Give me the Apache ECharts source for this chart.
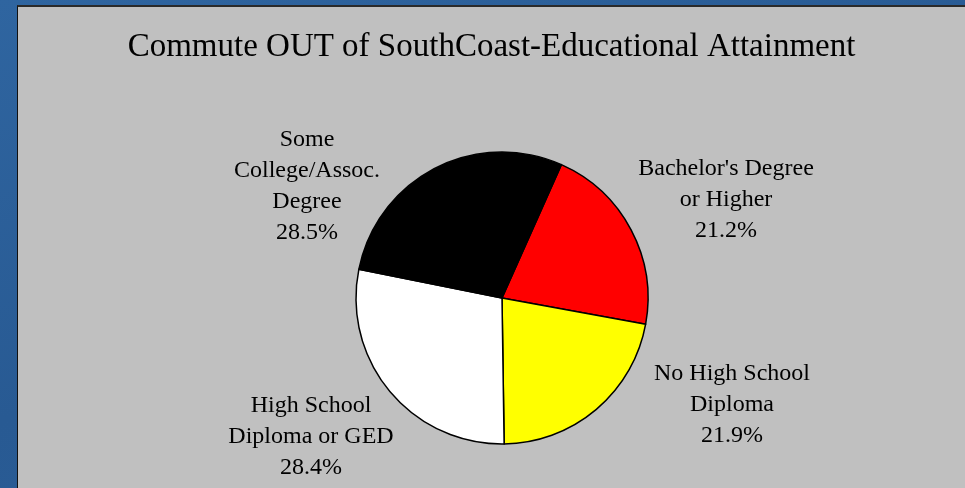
<!DOCTYPE html>
<html>
<head>
<meta charset="utf-8">
<title>Commute OUT of SouthCoast</title>
<script src="https://cdn.jsdelivr.net/npm/echarts@6/dist/echarts.min.js"></script>
<style>
	html, body {
		margin: 0;
		padding: 0;
		width: 965px;
		height: 488px;
		overflow: hidden;
		background: linear-gradient(160deg, #2f65a0 0%, #285a93 50%, #2c5f99 100%);
	}
	#main {
		position: absolute;
		left: 17px;
		top: 5px;
		width: 948px;
		height: 483px;
		border-top: 2px solid #2a2a2a;
		border-left: 1px solid #111;
		box-sizing: border-box;
	}
</style>
</head>
<body>
<div id="main"></div>
<script>
	// 数据
	var categories = [
		"Bachelor's Degree\nor Higher",
		'No High School\nDiploma',
		'High School\nDiploma or GED',
		'Some\nCollege/Assoc.\nDegree'
	];
	var shares = [21.2, 21.9, 28.4, 28.5];
	var sliceColors = ['#ff0000', '#ffff00', '#ffffff', '#000000'];

	// label centres, relative to the pie centre (px)
	var labelOffsets = [[224, -98], [230, 107], [-191, 139], [-195, -112]];
	var pieCenter = [484, 291];

	var myChart = echarts.init(document.getElementById('main'));
	myChart.setOption({
		backgroundColor: '#c0c0c0',
		animation: false,
		title: {
			text: 'Commute OUT of SouthCoast-Educational Attainment',
			left: 'center',
			top: 19,
			textStyle: {
				fontFamily: 'Liberation Serif',
				fontWeight: 'normal',
				fontSize: 33,
				color: '#000'
			}
		},
		series: [{
			type: 'pie',
			center: pieCenter,
			radius: 146,
			startAngle: 66,
			clockwise: true,
			avoidLabelOverlap: false,
			itemStyle: {
				borderColor: '#000',
				borderWidth: 1.5
			},
			emphasis: { disabled: true },
			label: {
				show: true,
				position: 'outside',
				fontFamily: 'Liberation Serif',
				fontSize: 24,
				lineHeight: 31,
				color: '#000',
				formatter: function (p) {
					return p.name + '\n' + p.value.toFixed(1) + '%';
				}
			},
			labelLine: { show: false },
			labelLayout: function (params) {
				var off = labelOffsets[params.dataIndex];
				return {
					x: pieCenter[0] + off[0],
					y: pieCenter[1] + off[1],
					align: 'center',
					verticalAlign: 'middle'
				};
			},
			data: categories.map(function (name, i) {
				return {
					name: name,
					value: shares[i],
					itemStyle: { color: sliceColors[i] }
				};
			})
		}]
	});
</script>
</body>
</html>
